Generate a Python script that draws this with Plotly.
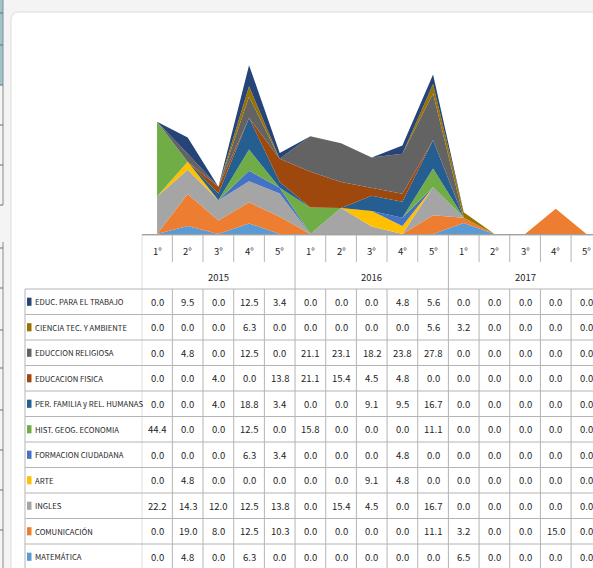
import plotly.graph_objects as go

# ---------------- data ----------------
years = ["2015", "2016", "2017"]
grades = ["1°", "2°", "3°", "4°", "5°"]

# table order (top to bottom)
subjects = [
    "EDUC. PARA EL TRABAJO",
    "CIENCIA TEC. Y AMBIENTE",
    "EDUCCION RELIGIOSA",
    "EDUCACION FISICA",
    "PER. FAMILIA y REL. HUMANAS",
    "HIST. GEOG. ECONOMIA",
    "FORMACION CIUDADANA",
    "ARTE",
    "INGLES",
    "COMUNICACIÓN",
    "MATEMÁTICA",
]
colors = [
    "#264478", "#997300", "#636363", "#9E480E", "#255E91", "#70AD47",
    "#4472C4", "#FFC000", "#A5A5A5", "#ED7D31", "#5B9BD5",
]

educ_trabajo = [0.0, 9.5, 0.0, 12.5, 3.4, 0.0, 0.0, 0.0, 4.8, 5.6, 0.0, 0.0, 0.0, 0.0, 0.0]
ciencia_tec = [0.0, 0.0, 0.0, 6.3, 0.0, 0.0, 0.0, 0.0, 0.0, 5.6, 3.2, 0.0, 0.0, 0.0, 0.0]
religiosa = [0.0, 4.8, 0.0, 12.5, 0.0, 21.1, 23.1, 18.2, 23.8, 27.8, 0.0, 0.0, 0.0, 0.0, 0.0]
ed_fisica = [0.0, 0.0, 4.0, 0.0, 13.8, 21.1, 15.4, 4.5, 4.8, 0.0, 0.0, 0.0, 0.0, 0.0, 0.0]
per_familia = [0.0, 0.0, 4.0, 18.8, 3.4, 0.0, 0.0, 9.1, 9.5, 16.7, 0.0, 0.0, 0.0, 0.0, 0.0]
hist_geog = [44.4, 0.0, 0.0, 12.5, 0.0, 15.8, 0.0, 0.0, 0.0, 11.1, 0.0, 0.0, 0.0, 0.0, 0.0]
formacion = [0.0, 0.0, 0.0, 6.3, 3.4, 0.0, 0.0, 0.0, 4.8, 0.0, 0.0, 0.0, 0.0, 0.0, 0.0]
arte = [0.0, 4.8, 0.0, 0.0, 0.0, 0.0, 0.0, 9.1, 4.8, 0.0, 0.0, 0.0, 0.0, 0.0, 0.0]
ingles = [22.2, 14.3, 12.0, 12.5, 13.8, 0.0, 15.4, 4.5, 0.0, 16.7, 0.0, 0.0, 0.0, 0.0, 0.0]
comunicacion = [0.0, 19.0, 8.0, 12.5, 10.3, 0.0, 0.0, 0.0, 0.0, 11.1, 3.2, 0.0, 0.0, 15.0, 0.0]
matematica = [0.0, 4.8, 0.0, 6.3, 0.0, 0.0, 0.0, 0.0, 0.0, 0.0, 6.5, 0.0, 0.0, 0.0, 0.0]

values = [educ_trabajo, ciencia_tec, religiosa, ed_fisica, per_familia, hist_geog,
          formacion, arte, ingles, comunicacion, matematica]

categories = [(y, g) for y in years for g in grades]
xs = list(range(len(categories)))

# ---------------- layout helpers ----------------
W, H = 593, 568
def fx(px):
    return px / W
def fy(py):
    return 1 - py / H

FONT = "Noto Sans CJK SC, Liberation Sans, sans-serif"
LINE = "#b4b4b4"
TXT = "#1e1e1e"
ROW_H = 25.5
ROW0 = 289.0          # pixel of first data row top
def ry(py):           # pixel -> table row units
    return (py - ROW0) / ROW_H

fig = go.Figure()

# stacked areas: bottom of stack = last table row
for name, col, vals in reversed(list(zip(subjects, colors, values))):
    fig.add_trace(go.Scatter(
        x=xs, y=vals, name=name, mode="lines", stackgroup="one",
        line=dict(width=0, color=col), fillcolor=col, hoverinfo="skip",
        showlegend=False,
    ))

shapes = []
annotations = []

# card background
cx0, cy0, r = 11, 12, 8
card_path = (f"M {fx(cx0)} {fy(H + 5)} L {fx(cx0)} {fy(cy0 + r)} "
             f"Q {fx(cx0)} {fy(cy0)} {fx(cx0 + r)} {fy(cy0)} "
             f"L {fx(W + 5)} {fy(cy0)} L {fx(W + 5)} {fy(H + 5)} Z")
shapes.append(dict(type="path", path=card_path, xref="paper", yref="paper",
                   fillcolor="white", line=dict(color="#dcdcdc", width=1), layer="below"))
# left edge remnants
shapes.append(dict(type="rect", xref="paper", yref="paper", x0=0, x1=fx(3), y0=fy(85), y1=fy(0),
                   fillcolor="#9cc6cc", line=dict(width=0), layer="below"))
for (a, b) in [(0, 205), (242, 568)]:
    shapes.append(dict(type="line", xref="paper", yref="paper", x0=fx(3), x1=fx(3), y0=fy(a), y1=fy(b),
                       line=dict(color="#8a8a8a", width=1), layer="below"))
for t in [13, 45, 85, 125, 165, 205, 248, 288, 330, 368, 410, 450, 490, 530]:
    shapes.append(dict(type="line", xref="paper", yref="paper", x0=0, x1=fx(3), y0=fy(t), y1=fy(t),
                       line=dict(color="#6f6f6f", width=1), layer="below"))

n = len(categories)
top = ry(235)
sub = ry(262)
bottom = ry(H + 2)

# table horizontal lines
shapes.append(dict(type="line", xref="x", yref="y2", x0=-0.5, x1=n - 0.5, y0=top, y1=top,
                   line=dict(color=LINE, width=1)))
for k in range(len(subjects) + 1):
    shapes.append(dict(type="line", xref="paper", yref="y2", x0=fx(25), x1=1.0, y0=k, y1=k,
                       line=dict(color=LINE, width=1)))
# table vertical lines
shapes.append(dict(type="line", xref="paper", yref="y2", x0=fx(25), x1=fx(25), y0=0, y1=bottom,
                   line=dict(color=LINE, width=1)))
for i in range(n + 1):
    xb = i - 0.5
    if i % len(grades) == 0:
        shapes.append(dict(type="line", xref="x", yref="y2", x0=xb, x1=xb, y0=top, y1=bottom,
                           line=dict(color=LINE, width=1)))
    else:
        shapes.append(dict(type="line", xref="x", yref="y2", x0=xb, x1=xb, y0=top, y1=sub,
                           line=dict(color=LINE, width=1)))
        shapes.append(dict(type="line", xref="x", yref="y2", x0=xb, x1=xb, y0=0, y1=bottom,
                           line=dict(color=LINE, width=1)))

# header texts
for i, (yr, g) in enumerate(categories):
    annotations.append(dict(x=i, y=ry(251), xref="x", yref="y2", text=g, showarrow=False,
                            font=dict(family=FONT, size=9.5, color=TXT)))
for j, yr in enumerate(years):
    annotations.append(dict(x=j * len(grades) + (len(grades) - 1) / 2, y=ry(277), xref="x", yref="y2",
                            text=yr, showarrow=False, font=dict(family=FONT, size=9.5, color=TXT)))

# rows
for k, (name, col, vals) in enumerate(zip(subjects, colors, values)):
    yc = k + 0.5
    shapes.append(dict(type="rect", xref="paper", yref="y2", x0=fx(27), x1=fx(31.5),
                       y0=yc - 0.16, y1=yc + 0.16, fillcolor=col, line=dict(width=0)))
    annotations.append(dict(x=fx(33), y=yc, xref="paper", yref="y2", xanchor="left", text=name,
                            showarrow=False, font=dict(family=FONT, size=7.7, color=TXT)))
    for i, v in enumerate(vals):
        annotations.append(dict(x=i, y=yc, xref="x", yref="y2", text=f"{v:.1f}", showarrow=False,
                                font=dict(family=FONT, size=9.5, color=TXT)))

col_w = 30.67
x_left = 141.7
fig.update_layout(
    width=W, height=H,
    margin=dict(l=0, r=0, t=0, b=0),
    paper_bgcolor="#f4f4f4",
    plot_bgcolor="rgba(0,0,0,0)",
    showlegend=False,
    xaxis=dict(domain=[fx(x_left), 1.0], range=[-0.5, -0.5 + (W - x_left) / col_w],
               showgrid=False, zeroline=False, showticklabels=False, ticks="",
               showline=True, linecolor="#8c8c8c", linewidth=1, fixedrange=True),
    yaxis=dict(domain=[fy(234), fy(20)], range=[0, (234 - 20) / 1.685], visible=False,
               fixedrange=True),
    yaxis2=dict(domain=[0, fy(234)], range=[ry(H), ry(234)], visible=False, anchor="x",
                fixedrange=True),
    shapes=shapes,
    annotations=annotations,
)

fig.write_html(
    "out.html",
    config={"displayModeBar": False},
    post_script="document.body.style.margin='0';document.body.style.overflow='hidden';",
)
